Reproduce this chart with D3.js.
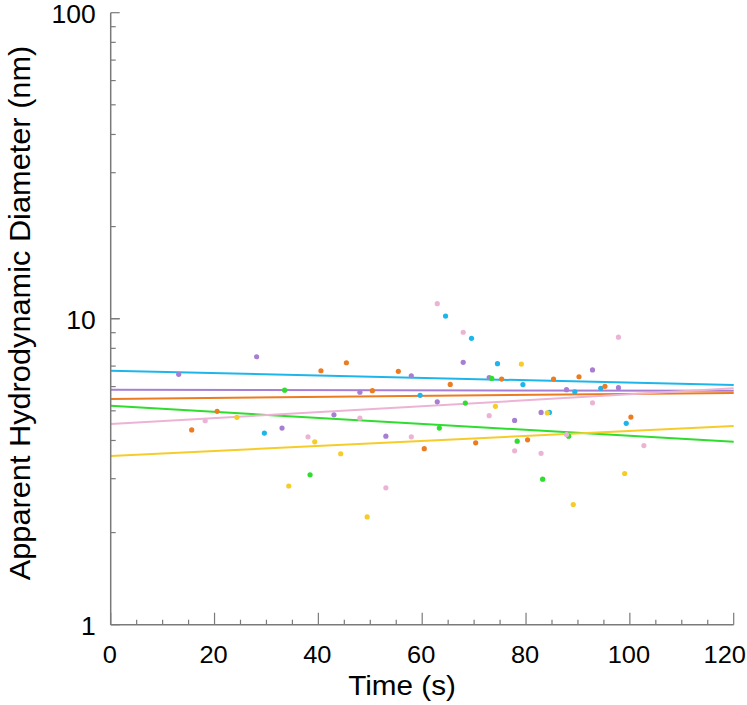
<!DOCTYPE html>
<html><head><meta charset="utf-8">
<script src="https://cdn.jsdelivr.net/npm/d3@7"></script>
<style>body{margin:0;background:#fff}svg{display:block}text{font-family:"Liberation Sans",Arial,sans-serif;fill:#000}</style>
</head><body><svg id="c" width="747" height="705"></svg>
<script>
const seriesNames = ["cyan","purple","orange","green","pink","yellow"];
const seriesColors = ["#1eb6ea","#a87ed2","#ec7c22","#2edd2e","#ecb4d4","#f6cc2a"];
// fitted line endpoints (value at t=0 and t=120)
const lineStart = [6.76, 5.86, 5.47, 5.19, 4.53, 3.56];
const lineEnd   = [6.07, 5.81, 5.72, 3.96, 5.92, 4.46];
// points: time, diameter
const cyanT = [29.6, 59.6, 64.5, 69.5, 74.5, 79.4, 84.5, 89.4, 94.4, 99.3];
const cyanV = [4.23, 5.62, 10.2, 8.63, 7.13, 6.09, 4.94, 5.77, 5.92, 4.55];
const purpleT = [13.1, 28.1, 33.0, 43.0, 48.0, 53.0, 57.9, 62.9, 67.9, 72.9, 77.8, 82.9, 87.8, 92.8, 97.8];
const purpleV = [6.58, 7.51, 4.39, 4.85, 5.75, 4.13, 6.51, 5.35, 7.2, 6.42, 4.65, 4.94, 5.86, 6.80, 5.95];
const orangeT = [15.6, 20.5, 40.5, 45.4, 50.4, 55.4, 60.4, 65.4, 70.3, 75.3, 80.3, 85.3, 90.2, 95.2, 100.2];
const orangeV = [4.33, 4.98, 6.76, 7.18, 5.82, 6.73, 3.76, 6.10, 3.93, 6.35, 4.02, 6.35, 6.46, 6.01, 4.77];
const greenT = [33.5, 38.4, 63.3, 68.3, 73.4, 78.3, 83.2, 88.2];
const greenV = [5.84, 3.09, 4.39, 5.30, 6.38, 3.98, 2.99, 4.13];
const pinkT = [18.2, 38.0, 48.0, 53.0, 57.9, 62.9, 67.9, 72.9, 77.8, 82.9, 87.8, 92.8, 97.8, 102.7];
const pinkV = [4.64, 4.11, 4.73, 2.80, 4.11, 11.2, 9.03, 4.82, 3.70, 3.63, 4.18, 5.31, 8.70, 3.85];
const yellowT = [24.3, 34.3, 39.3, 44.3, 49.4, 74.1, 79.1, 84.1, 89.1, 99.0];
const yellowV = [4.76, 2.84, 3.96, 3.62, 2.25, 5.17, 7.11, 4.92, 2.47, 3.12];
const pointT = [cyanT, purpleT, orangeT, greenT, pinkT, yellowT];
const pointV = [cyanV, purpleV, orangeV, greenV, pinkV, yellowV];
const xTicks = [0,20,40,60,80,100,120];
const yTicks = [1,10,100];

const svg = d3.select("#c");
const L = 110.7, R = 733.7, T = 12.7, B = 624.7;
const x = d3.scaleLinear().domain([0,120]).range([L,R]);
const y = d3.scaleLog().domain([1,100]).range([B,T]);
const axisCol = "#7a7a7a";
const SX = 1.06;

// lines
const lineGen = d3.line().x(d=>x(d[0])).y(d=>y(d[1]));
seriesNames.forEach((s,i)=>{
  svg.append("path").datum([[0,lineStart[i]],[120,lineEnd[i]]])
    .attr("d",lineGen).attr("fill","none").attr("stroke",seriesColors[i]).attr("stroke-width",2);
});
// points
seriesNames.forEach((s,i)=>{
  svg.append("g").selectAll("circle").data(pointT[i].map((t,j)=>[t,pointV[i][j]]))
    .join("circle").attr("cx",d=>x(d[0])).attr("cy",d=>y(d[1])).attr("r",2.6).attr("fill",seriesColors[i]);
});

// x axis (ticks inward)
const xMinor = d3.range(0,121,5);
const gx = svg.append("g");
gx.append("line").attr("x1",L).attr("x2",R).attr("y1",B).attr("y2",B).attr("stroke",axisCol).attr("stroke-width",1.5);
gx.selectAll("line.t").data(xMinor).join("line").attr("class","t")
  .attr("x1",d=>x(d)).attr("x2",d=>x(d)).attr("y1",B).attr("y2",d=>B-(d%20===0?12:5))
  .attr("stroke",axisCol).attr("stroke-width",1.2);
gx.selectAll("text").data(xTicks).join("text")
  .attr("transform",d=>`translate(${d===120?x(d)-9:x(d)-1},${B+38}) scale(${SX},1)`)
  .attr("text-anchor","middle").attr("font-size",24).text(d=>d);
svg.append("text").attr("transform",`translate(402,695) scale(${SX},1)`)
  .attr("text-anchor","middle").attr("font-size",28).text("Time (s)");

// y axis
const yMinor = [];
[1,10].forEach(b=>{for(let k=1;k<=10;k++) yMinor.push(b*k);});
const gy = svg.append("g");
gy.append("line").attr("x1",L).attr("x2",L).attr("y1",T).attr("y2",B).attr("stroke",axisCol).attr("stroke-width",1.5);
gy.selectAll("line.t").data(yMinor).join("line").attr("class","t")
  .attr("x1",L).attr("x2",d=>L+(yTicks.includes(d)?9:5)).attr("y1",d=>y(d)).attr("y2",d=>y(d))
  .attr("stroke",axisCol).attr("stroke-width",1.2);
gy.selectAll("text").data(yTicks).join("text")
  .attr("transform",d=>`translate(${L-15},${y(d)+10}) scale(${SX},1)`)
  .attr("text-anchor","end").attr("font-size",25).text(d=>d);
svg.append("text").attr("transform",`translate(30,313) rotate(-90) scale(${SX},1)`)
  .attr("text-anchor","middle").attr("font-size",29).text("Apparent Hydrodynamic Diameter (nm)");
</script></body></html>
